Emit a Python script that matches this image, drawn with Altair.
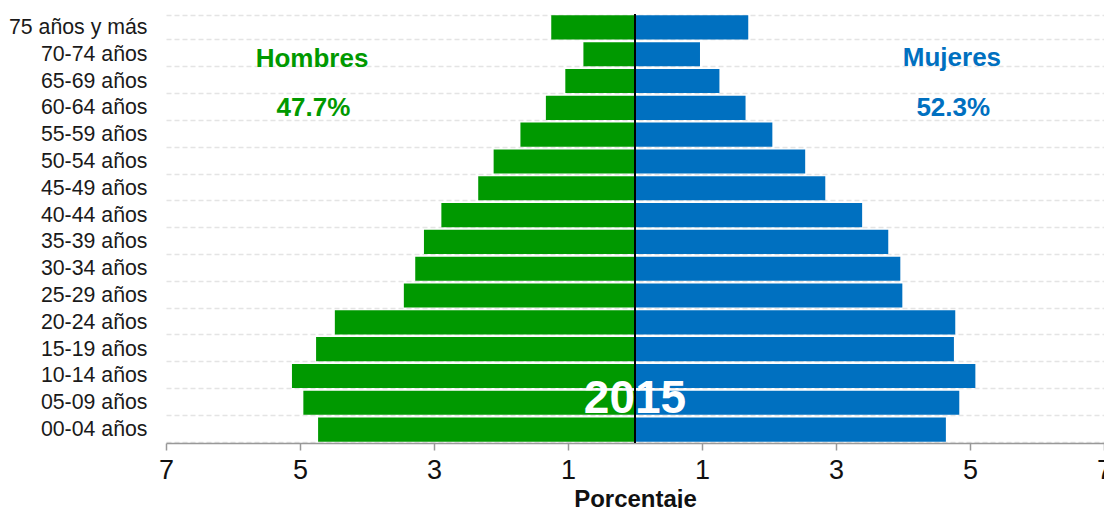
import altair as alt
import pandas as pd

ages = ["00-04 años", "05-09 años", "10-14 años", "15-19 años", "20-24 años",
        "25-29 años", "30-34 años", "35-39 años", "40-44 años", "45-49 años",
        "50-54 años", "55-59 años", "60-64 años", "65-69 años", "70-74 años",
        "75 años y más"]
men = [4.73, 4.95, 5.12, 4.76, 4.48, 3.45, 3.28, 3.15, 2.89, 2.34,
       2.11, 1.71, 1.33, 1.04, 0.77, 1.25]
women = [4.64, 4.84, 5.08, 4.76, 4.78, 3.99, 3.96, 3.78, 3.39, 2.84,
         2.54, 2.05, 1.65, 1.26, 0.97, 1.69]
tick_values = [-7, -5, -3, -1, 1, 3, 5, 7]
year_label = "2015"
men_label, men_pct = "Hombres", "47.7%"
women_label, women_pct = "Mujeres", "52.3%"

GREEN = "#009900"
BLUE = "#0070C0"
FONT = "Liberation Sans"

order = ages[::-1]

rows = []
for a, m, w in zip(ages, men, women):
    rows.append({"age": a, "sexo": "Hombres", "val": -m})
    rows.append({"age": a, "sexo": "Mujeres", "val": w})
df = pd.DataFrame(rows)

yscale = alt.Scale(domain=order, paddingInner=0.1, paddingOuter=0.05)
xscale = alt.Scale(domain=[-7, 7], nice=False, zero=False)

yaxis = alt.Axis(title=None, ticks=False, domain=False, labelFontSize=21.3,
                 labelFont=FONT, labelColor="#1a1a1a", labelPadding=19,
                 grid=True, gridDash=[5, 3], gridColor="#e4e4e4", gridWidth=1.5,
                 tickBand="extent")
xaxis = alt.Axis(values=tick_values, labelExpr="abs(datum.value)", grid=False,
                 domainColor="#999999", domainWidth=1.5, tickColor="#999999",
                 tickWidth=1.5, tickSize=7, labelFontSize=27, labelFont=FONT,
                 labelColor="#111111", labelPadding=7, labelFlush=False,
                 title="Porcentaje", titleFontSize=24, titleFont=FONT,
                 titleFontWeight="bold", titleColor="#111111", titlePadding=4)

bars = alt.Chart(df).mark_bar().encode(
    y=alt.Y("age:N", scale=yscale, axis=yaxis, sort=order),
    x=alt.X("val:Q", scale=xscale, axis=xaxis),
    x2=alt.datum(0),
    color=alt.Color("sexo:N", scale=alt.Scale(domain=["Hombres", "Mujeres"],
                                               range=[GREEN, BLUE]), legend=None),
)

def txt(label, x, age, color, size, dy):
    d = pd.DataFrame({"label": [label], "x": [x], "age": [age]})
    return alt.Chart(d).mark_text(fontSize=size, fontWeight="bold", font=FONT,
                                  color=color, dy=dy, baseline="middle",
                                  align="center").encode(
        x=alt.X("x:Q", scale=xscale),
        y=alt.Y("age:N", scale=yscale, sort=order),
        text="label:N",
    )

t1 = txt(men_label, -4.82, "70-74 años", GREEN, 26, 5)
t2 = txt(men_pct, -4.8, "60-64 años", GREEN, 26, 0)
t3 = txt(women_label, 4.73, "70-74 años", BLUE, 26, 4)
t4 = txt(women_pct, 4.75, "60-64 años", BLUE, 26, 0)
t5 = txt(year_label, 0, "05-09 años", "white", 46, -4)

center = alt.Chart(pd.DataFrame({"z": [0]})).mark_rule(color="black", strokeWidth=2).encode(
    x=alt.X("z:Q", scale=xscale),
)

chart = alt.layer(bars, t5, center, t1, t2, t3, t4).properties(
    width=938, height=429,
    autosize=alt.AutoSizeParams(type="none"),
    padding={"left": 158, "top": 6, "right": 0, "bottom": 65},
).configure_view(stroke=None)

chart.save("out.html", embed_options={"renderer": "svg", "actions": False})
